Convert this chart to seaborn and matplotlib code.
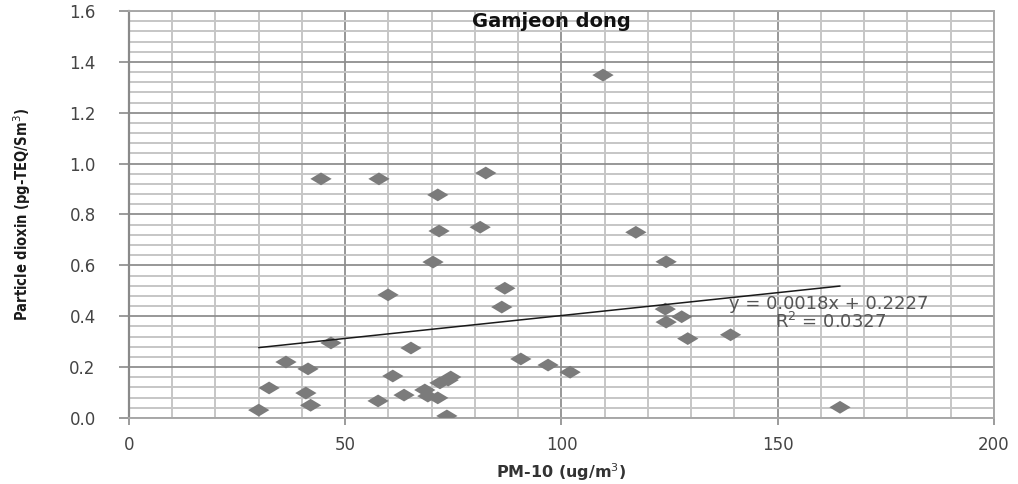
import numpy as np
import pandas as pd
import matplotlib
matplotlib.use("Agg")
import matplotlib.pyplot as plt
import seaborn as sns
from matplotlib.ticker import MultipleLocator

# ---- data ----
pm10 = [30.0, 32.4, 36.3, 41.4, 40.9, 42.0, 44.4, 46.7, 57.8, 57.6,
        59.9, 61.0, 63.6, 65.2, 68.4, 69.1, 70.3, 71.4, 71.7, 71.4,
        71.9, 73.8, 74.4, 73.5, 81.2, 82.5, 86.2, 86.9, 90.6, 96.9,
        102.0, 109.6, 117.2, 124.0, 124.2, 127.8, 129.2, 139.1, 124.2, 164.4]
dioxin = [0.031, 0.118, 0.220, 0.193, 0.098, 0.050, 0.940, 0.295, 0.940, 0.067,
          0.484, 0.165, 0.090, 0.275, 0.110, 0.086, 0.613, 0.877, 0.735, 0.079,
          0.138, 0.149, 0.161, 0.008, 0.750, 0.963, 0.436, 0.510, 0.232, 0.208,
          0.180, 1.348, 0.730, 0.428, 0.377, 0.398, 0.312, 0.327, 0.614, 0.042]
slope = 0.0018
intercept = 0.2227
r_squared = 0.0327
title = "Gamjeon dong"
x_label = "PM-10 (ug/m$^3$)"
y_label = "Particle dioxin (pg-TEQ/Sm$^3$)"

df = pd.DataFrame({"pm10": pm10, "dioxin": dioxin})

sns.set_theme(style="white")
plt.rcParams['font.family'] = ['DejaVu Sans']

fig = plt.figure(figsize=(10.18, 4.84), dpi=100)
ax = fig.add_axes([0.1267, 0.1364, 0.9764 - 0.1267, 0.9773 - 0.1364])

diamond = [(-1, 0), (0, 0.6), (1, 0), (0, -0.6), (-1, 0)]
sns.scatterplot(data=df, x="pm10", y="dioxin", ax=ax, marker=diamond,
                s=235, color="#7b7b7b", edgecolor="none", linewidth=0, zorder=3)

# trend line
xs = np.array([min(pm10), max(pm10)])
ax.plot(xs, slope * xs + intercept, color="#1a1a1a", lw=1.1, zorder=4)

ax.set_xlim(0, 200)
ax.set_ylim(0, 1.6)
ax.xaxis.set_major_locator(MultipleLocator(50))
ax.xaxis.set_minor_locator(MultipleLocator(10))
ax.yaxis.set_major_locator(MultipleLocator(0.2))
ax.yaxis.set_minor_locator(MultipleLocator(0.04))
ax.yaxis.set_major_formatter(matplotlib.ticker.FormatStrFormatter('%.1f'))

ax.grid(which="minor", color="#c6c6c6", lw=1.4, zorder=0)
ax.grid(which="major", color="#8f8f8f", lw=1.3, zorder=0)
ax.set_axisbelow(True)

for side in ["top", "right", "bottom"]:
    ax.spines[side].set_color("#a8a8a8")
    ax.spines[side].set_linewidth(1.4)
ax.spines["left"].set_color("#8a8a8a")
ax.spines["left"].set_linewidth(1.6)

ax.tick_params(axis="y", which="major", direction="out", length=7, width=1.2,
               color="#8a8a8a", left=True, labelsize=12, labelcolor="#444444", pad=17)
ax.tick_params(axis="x", which="major", direction="out", length=5, width=1.2,
               color="#8a8a8a", bottom=True, labelsize=12, labelcolor="#444444", pad=8)
ax.tick_params(which="minor", length=0)

ax.set_xlabel(x_label, fontsize=11.5, fontweight="bold", color="#333333", labelpad=5)
ax.set_ylabel(y_label, fontsize=10.5, fontweight="bold", color="#1a1a1a", labelpad=26,
              fontstretch="condensed")

ax.text(97.6, 1.557, title, ha="center", va="center",
        fontsize=14, fontweight="bold", color="#111111")

ax.text(161.8, 0.448, f"y = {slope}x + {intercept}", ha="center", va="center",
        fontsize=13, color="#555555", zorder=5)
ax.text(162.2, 0.377, f"R$^2$ = {r_squared}", ha="center", va="center",
        fontsize=13, color="#555555", zorder=5)

fig.savefig("out.png", dpi=100)
